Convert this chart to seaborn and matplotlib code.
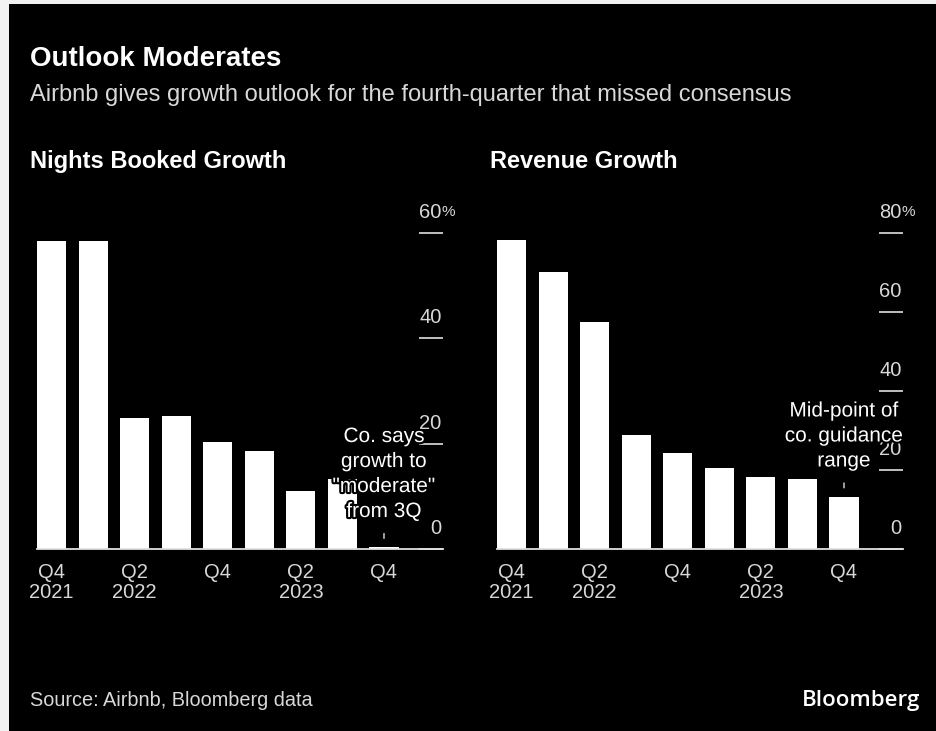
import matplotlib
matplotlib.use("Agg")
import matplotlib.pyplot as plt
import matplotlib.patheffects as pe
from matplotlib.patches import Rectangle
import pandas as pd
import seaborn as sns

# ─── data ───
QUARTERS = ["Q4 2021", "Q1 2022", "Q2 2022", "Q3 2022", "Q4 2022",
            "Q1 2023", "Q2 2023", "Q3 2023", "Q4 2023"]
NIGHTS_GROWTH = [58.4, 58.4, 24.9, 25.2, 20.3, 18.6, 11.0, 13.3, 0.3]
REVENUE_GROWTH = [78.2, 70.1, 57.5, 28.9, 24.3, 20.5, 18.2, 17.7, 13.2]
X_TICK_POS = [0, 2, 4, 6, 8]
X_TICK_LABELS = ["Q4\n2021", "Q2\n2022", "Q4", "Q2\n2023", "Q4"]
NIGHTS_TICKS = [0, 20, 40, 60]
REVENUE_TICKS = [0, 20, 40, 60, 80]
NIGHTS_NOTE = 'Co. says\ngrowth to\n"moderate"\nfrom 3Q'
REVENUE_NOTE = "Mid-point of\nco. guidance\nrange"

W, H = 937, 731
FG = "#d8d8d8"


def fx(p):
    return p / W


def fy(p):
    return 1 - p / H


sns.set_theme(style="white")
plt.rcParams["font.family"] = ["Liberation Sans", "DejaVu Sans"]

fig = plt.figure(figsize=(W / 100, H / 100), dpi=100, facecolor="#f2f2f2")
fig.patches.append(Rectangle((fx(9), 0), 1 - fx(9), fy(4), transform=fig.transFigure,
                             facecolor="black", edgecolor="none", zorder=-10))


def draw_panel(left_px, values, ticks, title, note):
    ax = fig.add_axes([fx(left_px), fy(549), fx(406), fy(233) - fy(549)])
    df = pd.DataFrame({"quarter": QUARTERS, "growth": values})
    sns.barplot(data=df, x="quarter", y="growth", ax=ax, color="white",
                saturation=1, width=0.7, linewidth=0)
    ax.set_facecolor("none")
    ax.set_xlim(-0.35, 9.42)
    ax.set_ylim(0, ticks[-1])
    for s in ["left", "right", "top"]:
        ax.spines[s].set_visible(False)
    ax.spines["bottom"].set_color("#e0e0e0")
    ax.spines["bottom"].set_linewidth(1.3)

    ax.set_xticks(X_TICK_POS)
    ax.set_xticklabels(X_TICK_LABELS, linespacing=1.1)
    ax.tick_params(axis="x", direction="out", length=6, width=1, color="#e0e0e0",
                   labelcolor=FG, labelsize=14.5, pad=4)
    ax.set_yticks(ticks)
    ax.tick_params(axis="y", direction="in", length=17, width=1.2, color="#e0e0e0",
                   left=False, right=True, labelleft=False, labelright=False)
    ax.set_xlabel("")
    ax.set_ylabel("")

    for t in ticks:
        ax.annotate(str(t), xy=(1, t), xycoords=("axes fraction", "data"),
                    xytext=(-1, 8), textcoords="offset points", ha="right", va="bottom",
                    color=FG, fontsize=14.5)
    ax.annotate("%", xy=(1, ticks[-1]), xycoords=("axes fraction", "data"),
                xytext=(-1, 10), textcoords="offset points", ha="left", va="bottom",
                color=FG, fontsize=11)

    last = len(values) - 1
    ax.annotate(note, xy=(last, values[last]), xytext=(0, 19), textcoords="offset points",
                ha="center", va="bottom", color="white", fontsize=15, linespacing=1.4,
                path_effects=[pe.withStroke(linewidth=3, foreground="black")])
    ax.annotate("", xy=(last, values[last]), xytext=(0, 10), textcoords="offset points",
                arrowprops=dict(arrowstyle="-", color="#e0e0e0", lw=1,
                                shrinkA=0, shrinkB=6.5))

    fig.text(fx(left_px - 7), fy(168), title, color="white", fontsize=17,
             fontweight="bold", ha="left", va="baseline")
    return ax


draw_panel(37, NIGHTS_GROWTH, NIGHTS_TICKS, "Nights Booked Growth", NIGHTS_NOTE)
draw_panel(497, REVENUE_GROWTH, REVENUE_TICKS, "Revenue Growth", REVENUE_NOTE)

fig.text(fx(30), fy(66), "Outlook Moderates", color="white", fontsize=20,
         fontweight="bold", ha="left", va="baseline")
fig.text(fx(30), fy(101),
         "Airbnb gives growth outlook for the fourth-quarter that missed consensus",
         color=FG, fontsize=17, ha="left", va="baseline")
fig.text(fx(30), fy(706), "Source: Airbnb, Bloomberg data", color=FG, fontsize=14.3,
         ha="left", va="baseline")
fig.text(fx(920), fy(706), "Bloomberg", color="white", fontsize=16,
         family="Open Sans", fontweight="semibold", ha="right", va="baseline")

fig.savefig("out.png", dpi=100, facecolor=fig.get_facecolor())
